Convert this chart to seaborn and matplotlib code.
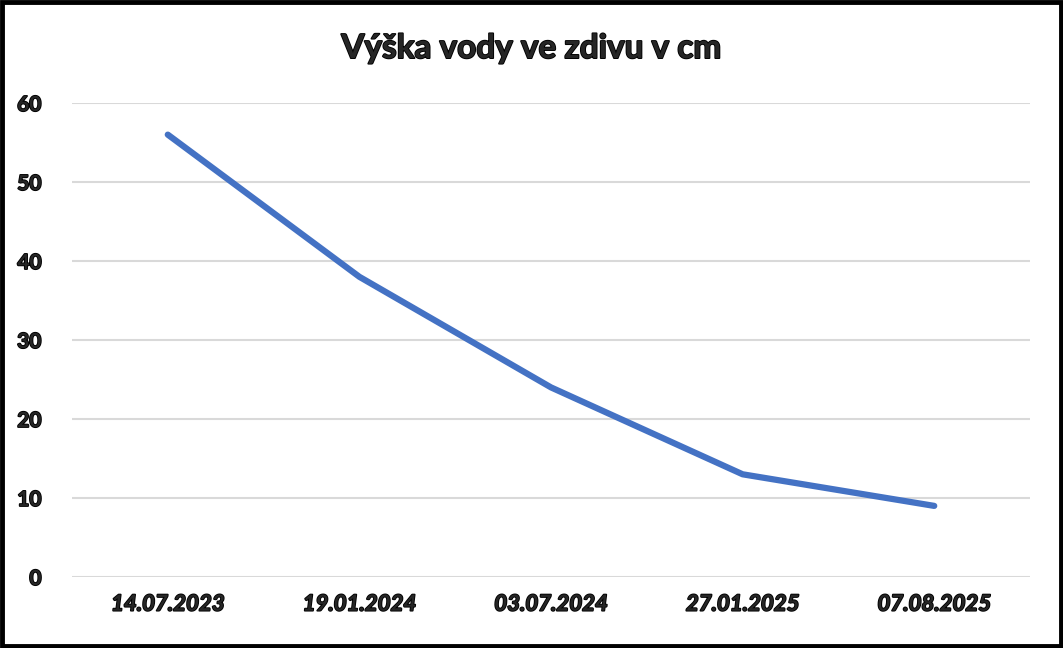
import pandas as pd
import matplotlib.pyplot as plt
import seaborn as sns
from matplotlib.patches import Rectangle
import matplotlib.patheffects as pe

# data
dates = ['14.07.2023', '19.01.2024', '03.07.2024', '27.01.2025', '07.08.2025']
heights = [56, 38, 24, 13, 9]
y_ticks = [0, 10, 20, 30, 40, 50, 60]

df = pd.DataFrame({'datum': dates, 'vyska': heights})

sns.set_theme(style='white')
plt.rcParams['font.family'] = ['Lato', 'DejaVu Sans']

# tluste pismo jako v originalu
heavy = [pe.withStroke(linewidth=1.3, foreground='black')]

fig = plt.figure(figsize=(10.63, 6.48), dpi=100)
ax = fig.add_axes([0.0677, 0.1096, 0.9013, 0.7314])

sns.lineplot(data=df, x='datum', y='vyska', sort=False, color='#4472C4',
             linewidth=4.5, solid_capstyle='round', solid_joinstyle='round', ax=ax)

ax.set_xlim(-0.5, len(dates) - 0.5)
ax.set_ylim(0, 60)
ax.set_yticks(y_ticks)
ax.yaxis.grid(True, color='#d9d9d9', linewidth=1.5)
ax.set_axisbelow(True)
for s in ax.spines.values():
    s.set_visible(False)
ax.tick_params(axis='both', length=0)
ax.tick_params(axis='y', pad=22)
ax.tick_params(axis='x', pad=12)
ax.set_xlabel('')
ax.set_ylabel('')
for lbl in ax.get_yticklabels():
    lbl.set_fontsize(15)
    lbl.set_fontweight('bold')
    lbl.set_path_effects(heavy)
for lbl in ax.get_xticklabels():
    lbl.set_fontsize(16)
    lbl.set_fontweight('bold')
    lbl.set_fontstyle('italic')
    lbl.set_path_effects(heavy)

fig.text(0.5, 0.925, 'Výška vody ve zdivu v cm', ha='center', va='center',
         fontsize=24, fontweight='bold', path_effects=heavy)

fig.patches.append(Rectangle((0.002, 0.003), 0.996, 0.994, transform=fig.transFigure,
                             fill=False, edgecolor='black', linewidth=3.5))

fig.savefig('out.png', dpi=100)
